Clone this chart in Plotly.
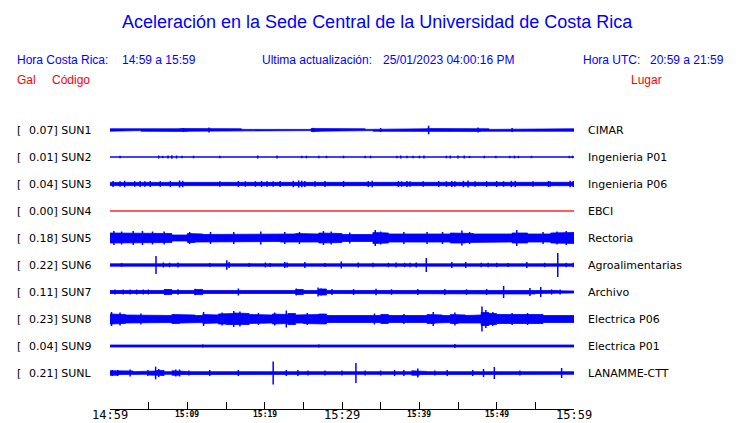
import plotly.graph_objects as go

TITLE = "Aceleración en la Sede Central de la Universidad de Costa Rica"

codes = ["SUN1", "SUN2", "SUN3", "SUN4", "SUN5", "SUN6", "SUN7", "SUN8", "SUN9", "SUNL"]
peaks = [0.07, 0.01, 0.04, 0.00, 0.18, 0.22, 0.11, 0.23, 0.04, 0.21]
places = ["CIMAR", "Ingenieria P01", "Ingenieria P06", "EBCI", "Rectoria",
          "Agroalimentarias", "Archivo", "Electrica P06", "Electrica P01", "LANAMME-CTT"]
trace_colors = ["#0000ff", "#0000ff", "#0000ff", "#ff0000", "#0000ff",
                "#0000ff", "#0000ff", "#0000ff", "#0000ff", "#0000ff"]

# minutes after 14:59
tick_minutes = [0, 5, 10, 15, 20, 25, 30, 35, 40, 45, 50, 55, 60]
tick_labels = ["14:59", "", "15:09", "", "15:19", "", "15:29", "", "15:39", "", "15:49", "", "15:59"]
big_labels = ["14:59", "15:29", "15:59"]

# background level (half amplitude, relative units) for each minute 0..59
env = {
    "SUN1": [1.2, 1.2, 1.2, 0.6, 1.2, 1.2, 1.2, 1.0, 1.2, 1.4, 1.2, 1.2, 1.0, 1.2, 1.2, 1.2, 1.2, 0.6, 1.2, 0.6,
             1.2, 1.2, 1.0, 1.2, 1.2, 0.6, 1.4, 1.2, 1.2, 1.2, 1.2, 1.2, 1.2, 0.6, 1.2, 1.2, 1.0, 1.2, 1.2, 1.2,
             1.2, 1.4, 1.2, 1.2, 1.0, 1.2, 1.2, 1.4, 1.2, 0.6, 1.2, 1.2, 1.0, 1.2, 0.6, 1.2, 1.2, 1.2, 1.2, 1.2],
    "SUN2": [0.2, 0.2, 0.2, 0.2, 0.2, 0.2, 0.5, 0.5, 0.6, 0.5, 0.2, 0.2, 0.2, 0.2, 0.2, 0.2, 0.2, 0.2, 0.2, 0.2,
             0.2, 0.2, 0.2, 0.2, 0.2, 0.2, 0.2, 0.2, 0.2, 0.2, 0.2, 0.2, 0.2, 0.2, 0.2, 0.2, 0.2, 0.4, 0.4, 0.4,
             0.4, 0.2, 0.2, 0.4, 0.5, 0.4, 0.4, 0.2, 0.2, 0.2, 0.2, 0.2, 0.4, 0.2, 0.2, 0.2, 0.2, 0.2, 0.2, 0.2],
    "SUN3": [1.6, 1.6, 1.6, 1.6, 1.6, 1.6, 1.6, 1.6, 1.6, 1.8, 1.6, 1.6, 1.6, 1.6, 1.6, 1.6, 1.6, 1.6, 1.6, 1.6,
             1.6, 1.6, 1.6, 1.8, 1.9, 1.8, 1.6, 1.6, 1.6, 1.6, 1.6, 1.6, 1.6, 1.6, 1.6, 1.6, 1.6, 1.6, 1.7, 1.6,
             1.6, 1.6, 1.6, 1.6, 1.7, 1.8, 1.8, 1.6, 1.6, 1.6, 1.6, 1.7, 1.8, 1.6, 1.6, 1.6, 1.6, 1.6, 1.6, 1.7],
    "SUN4": [0.0, 0.0, 0.0, 0.0, 0.0, 0.0, 0.0, 0.0, 0.0, 0.0, 0.0, 0.0, 0.0, 0.0, 0.0, 0.0, 0.0, 0.0, 0.0, 0.0,
             0.0, 0.0, 0.0, 0.0, 0.0, 0.0, 0.0, 0.0, 0.0, 0.0, 0.0, 0.0, 0.0, 0.0, 0.0, 0.0, 0.0, 0.0, 0.0, 0.0,
             0.0, 0.0, 0.0, 0.0, 0.0, 0.0, 0.0, 0.0, 0.0, 0.0, 0.0, 0.0, 0.0, 0.0, 0.0, 0.0, 0.0, 0.0, 0.0, 0.0],
    "SUN5": [5.0, 4.5, 5.0, 4.5, 5.0, 4.5, 4.5, 4.5, 3.0, 3.0, 4.5, 4.0, 3.5, 3.5, 3.5, 4.0, 3.5, 3.5, 4.0, 4.0,
             4.0, 3.5, 4.0, 4.0, 4.5, 4.5, 4.0, 5.0, 5.0, 4.5, 3.5, 3.0, 3.5, 3.5, 5.5, 5.0, 4.0, 4.0, 4.0, 4.0,
             4.0, 4.0, 4.0, 4.0, 5.0, 5.0, 4.5, 4.0, 4.0, 4.0, 4.0, 4.0, 5.0, 5.0, 4.0, 4.0, 4.0, 5.0, 5.5, 5.5],
    "SUN6": [1.2, 1.2, 1.2, 1.2, 1.2, 1.2, 1.3, 1.3, 1.3, 1.2, 1.2, 1.2, 1.2, 1.2, 1.2, 1.4, 1.2, 1.2, 1.2, 1.2,
             1.3, 1.2, 1.3, 1.2, 1.2, 1.3, 1.2, 1.2, 1.2, 1.3, 1.3, 1.2, 1.2, 1.2, 1.2, 1.2, 1.2, 1.2, 1.2, 1.2,
             1.3, 1.2, 1.2, 1.2, 1.3, 1.2, 1.2, 1.2, 1.2, 1.2, 1.2, 1.2, 1.2, 1.2, 1.3, 1.2, 1.2, 1.3, 1.2, 1.2],
    "SUN7": [1.5, 1.5, 1.5, 1.5, 1.5, 1.5, 1.5, 2.5, 1.5, 2.2, 1.5, 2.5, 1.5, 1.5, 1.5, 1.5, 2.0, 1.5, 1.5, 1.5,
             1.5, 1.5, 1.5, 1.5, 2.5, 1.5, 1.5, 3.0, 1.5, 2.2, 1.5, 2.2, 1.5, 1.5, 2.0, 1.5, 1.8, 1.5, 1.5, 2.0,
             2.2, 1.5, 1.5, 2.0, 1.5, 1.5, 1.8, 1.5, 2.0, 1.5, 1.5, 2.0, 1.5, 1.5, 2.0, 1.5, 1.5, 1.5, 1.2, 1.0],
    "SUN8": [5.0, 4.5, 4.0, 3.5, 3.5, 4.0, 3.5, 3.5, 4.5, 4.0, 4.0, 3.5, 4.5, 4.0, 5.0, 5.5, 6.0, 5.5, 4.5, 4.5,
             4.0, 5.0, 4.5, 5.5, 4.0, 4.5, 4.5, 5.0, 3.5, 3.5, 3.5, 3.0, 3.0, 3.0, 3.5, 4.5, 3.5, 3.5, 3.5, 4.0,
             3.5, 4.5, 4.0, 3.5, 4.5, 4.0, 3.5, 4.0, 6.5, 5.5, 4.5, 5.0, 5.0, 5.0, 4.5, 4.5, 3.5, 3.0, 3.5, 3.5],
    "SUN9": [1.0, 1.0, 1.0, 0.5, 1.0, 1.0, 1.0, 1.0, 1.0, 0.6, 1.0, 1.0, 1.0, 1.0, 1.0, 1.0, 1.0, 1.0, 1.0, 1.0,
             0.5, 1.0, 1.0, 1.0, 1.0, 1.0, 1.0, 1.0, 1.0, 1.0, 1.0, 1.0, 0.6, 1.0, 1.0, 1.0, 1.0, 1.0, 1.0, 1.0,
             1.0, 1.0, 1.0, 1.0, 1.1, 1.0, 1.0, 1.0, 1.0, 1.0, 1.0, 1.0, 1.0, 1.0, 1.0, 1.0, 1.0, 1.0, 1.0, 1.0],
    "SUNL": [2.2, 1.5, 2.0, 1.3, 1.3, 2.0, 2.5, 1.3, 2.2, 1.5, 1.3, 1.3, 1.5, 1.8, 1.3, 1.3, 1.8, 1.3, 1.3, 1.3,
             1.3, 2.0, 1.5, 1.8, 1.8, 1.5, 1.3, 1.5, 1.3, 1.3, 1.5, 2.0, 1.3, 1.3, 1.3, 1.5, 1.8, 1.8, 1.3, 2.2,
             1.5, 1.3, 1.5, 2.0, 1.3, 1.3, 1.5, 1.8, 2.0, 1.8, 1.3, 1.3, 1.3, 1.5, 1.3, 1.3, 1.3, 1.3, 1.8, 1.3],
}

# isolated peaks: (minute, half amplitude)
spikes = {
    "SUN1": [(9.5, 2.0), (12.8, 2.5), (26.3, 2.2), (41.2, 4.3), (47.6, 2.5), (35.0, 2.0), (52.0, 2.0)],
    "SUN2": [(1.3, 1.3), (6.3, 1.5), (6.8, 1.2), (7.5, 1.6), (8.0, 1.8), (8.6, 1.5), (9.3, 1.3), (10.8, 1.3),
             (14.2, 1.2), (19.1, 1.5), (21.6, 1.5), (24.8, 1.3), (25.4, 1.3), (27.0, 1.2), (28.0, 1.2),
             (30.2, 1.3), (33.0, 1.2), (33.7, 1.3), (37.1, 1.3), (37.6, 1.5), (38.4, 1.2), (39.2, 1.2),
             (40.0, 1.3), (40.6, 1.4), (43.5, 1.3), (44.0, 1.5), (45.0, 1.5), (45.8, 1.4), (46.5, 1.2),
             (48.4, 1.3), (49.9, 1.2), (51.7, 1.2), (52.3, 1.4), (52.8, 1.2), (54.5, 1.2), (59.4, 1.2), (59.8, 1.3)],
    "SUN3": [(0.4, 3.0), (1.3, 2.8), (1.9, 3.2), (3.2, 2.8), (3.9, 3.0), (4.5, 2.8), (5.2, 3.0), (6.5, 2.8),
             (7.8, 3.0), (9.0, 3.5), (9.4, 3.2), (14.2, 2.8), (16.6, 3.0), (17.5, 2.8), (18.8, 2.8), (19.6, 3.0),
             (20.3, 2.8), (21.1, 2.8), (22.0, 3.0), (23.7, 3.2), (24.4, 3.5), (24.8, 3.2), (25.2, 3.0),
             (26.5, 2.8), (27.8, 3.0), (30.2, 3.0), (33.4, 3.0), (33.9, 3.2), (37.3, 3.0), (37.7, 2.8),
             (38.4, 3.0), (38.8, 2.8), (40.5, 2.8), (42.5, 3.0), (43.5, 2.8), (44.2, 3.0), (44.6, 2.8),
             (45.7, 3.2), (46.3, 3.5), (47.2, 2.8), (48.7, 2.8), (50.0, 3.0), (50.9, 2.8), (51.9, 3.2),
             (52.4, 3.2), (54.7, 2.8), (56.7, 3.0), (56.9, 2.8), (59.5, 3.2), (59.9, 3.0)],
    "SUN4": [],
    "SUN5": [(0.5, 7.0), (1.5, 6.5), (3.0, 7.0), (4.2, 7.0), (5.5, 6.5), (7.0, 6.5), (10.3, 6.0), (13.0, 6.0),
             (16.0, 6.0), (19.5, 6.5), (22.6, 6.0), (24.5, 6.0), (27.6, 7.0), (28.6, 6.5), (31.0, 5.5),
             (34.3, 8.0), (35.0, 6.5), (38.0, 6.0), (41.0, 6.0), (43.0, 6.0), (45.5, 7.5), (46.5, 6.0),
             (52.6, 8.0), (56.0, 6.0), (57.8, 6.5), (59.0, 7.0)],
    "SUN6": [(1.5, 2.0), (5.95, 9.0), (6.9, 2.5), (7.7, 2.3), (8.8, 2.5), (12.9, 2.0), (15.1, 4.7), (15.4, 3.0),
             (18.0, 2.0), (20.1, 2.5), (20.7, 2.0), (22.6, 3.0), (22.9, 2.5), (25.2, 3.0), (27.8, 2.0),
             (29.9, 3.5), (32.1, 2.5), (34.0, 2.2), (36.0, 2.2), (37.0, 2.5), (38.1, 2.2), (38.8, 2.2),
             (39.6, 2.5), (40.9, 7.0), (44.2, 3.0), (46.0, 3.0), (48.0, 2.2), (48.9, 2.2), (50.0, 2.2),
             (51.5, 2.0), (53.9, 3.0), (56.2, 2.2), (57.9, 12.0), (59.0, 2.2), (59.9, 2.2)],
    "SUN7": [(0.65, 2.5), (1.7, 2.5), (2.6, 2.5), (3.45, 2.5), (4.3, 2.5), (4.95, 2.5), (7.2, 3.0), (8.8, 2.8),
             (11.0, 3.2), (16.6, 3.5), (24.1, 3.5), (26.9, 4.5), (27.3, 3.5), (28.7, 3.0), (31.5, 3.0),
             (34.4, 3.2), (36.4, 2.8), (39.8, 3.0), (43.3, 3.0), (46.1, 2.8), (48.7, 3.0), (50.9, 6.0),
             (54.3, 4.0), (55.7, 5.0), (57.1, 2.6), (58.2, 2.6)],
    "SUN8": [(0.2, 7.0), (1.3, 6.5), (4.0, 5.5), (12.1, 7.0), (14.5, 6.5), (16.0, 8.0), (16.8, 7.5), (19.2, 6.0),
             (21.3, 6.5), (22.8, 8.5), (25.5, 6.0), (34.2, 5.5), (38.0, 5.0), (41.8, 7.0), (44.6, 6.5),
             (48.1, 12.5), (48.6, 9.0), (49.5, 7.0), (52.0, 6.0), (54.0, 6.0)],
    "SUN9": [(44.6, 2.0), (12.0, 1.6), (27.0, 1.6)],
    "SUNL": [(0.3, 3.0), (1.0, 3.0), (2.6, 3.5), (4.9, 3.0), (5.9, 6.3), (6.3, 4.0), (8.5, 3.5), (9.0, 3.5),
             (10.2, 2.5), (12.9, 3.0), (16.6, 3.0), (21.1, 11.5), (22.8, 3.0), (24.3, 3.0), (25.6, 2.5),
             (27.8, 2.5), (30.0, 2.5), (31.8, 10.0), (33.0, 2.5), (35.0, 2.5), (36.8, 3.0), (38.0, 3.0),
             (39.8, 4.5), (42.0, 2.5), (43.6, 3.0), (46.9, 3.0), (48.3, 4.0), (49.7, 6.0), (53.0, 2.5),
             (58.4, 5.0)],
}

AMP = 1 / 27  # relative amplitude -> trace spacing units
L, R, T, B = 110, 166, 103, 14
W, H = 740, 423


def px(x):
    return (x - L) / (W - L - R)


def py(y):
    return (H - B - y) / (H - T - B)


fig = go.Figure()

for i, code in enumerate(codes):
    a = env[code]
    xs, ys = [], []
    for m, v in enumerate(a):
        xs += [m, m + 1]
        ys += [i - v * AMP, i - v * AMP]
    for m in range(len(a) - 1, -1, -1):
        xs += [m + 1, m]
        ys += [i + a[m] * AMP, i + a[m] * AMP]
    fig.add_trace(go.Scatter(x=xs, y=ys, mode="lines", fill="toself",
                             fillcolor=trace_colors[i],
                             line=dict(color=trace_colors[i], width=0.8),
                             hoverinfo="skip", showlegend=False))
    sx, sy = [], []
    for m, v in spikes[code]:
        sx += [m, m, None]
        sy += [i - v * AMP, i + v * AMP, None]
    if sx:
        fig.add_trace(go.Scatter(x=sx, y=sy, mode="lines",
                                 line=dict(color=trace_colors[i], width=1.5),
                                 hoverinfo="skip", showlegend=False))

ann = []
label_font = dict(family="DejaVu Sans", size=11, color="black")
for i, code in enumerate(codes):
    ann.append(dict(x=px(15), y=i, xref="paper", yref="y", text="[", xanchor="left",
                    showarrow=False, font=label_font))
    ann.append(dict(x=px(27), y=i, xref="paper", yref="y", text=f"{peaks[i]:.2f}]\u00a0SUN{code[3:]}",
                    xanchor="left", showarrow=False, font=label_font))
    ann.append(dict(x=px(586), y=i, xref="paper", yref="y", text=places[i], xanchor="left",
                    showarrow=False, font=label_font))

for m, lab in zip(tick_minutes, tick_labels):
    if not lab:
        continue
    big = lab in big_labels
    ann.append(dict(x=m, y=py(415 if big else 414), xref="x", yref="paper",
                    text=lab if big else f"<b>{lab}</b>",
                    xanchor="center", yanchor="middle", showarrow=False,
                    font=dict(family="DejaVu Sans Mono", size=12 if big else 8, color="black")))

hdr = dict(family="Liberation Sans", size=12, color="#0000ff")
red = dict(family="Liberation Sans", size=12, color="#ff0000")
ann += [
    dict(x=px(377), y=py(22), text=TITLE, xanchor="center",
         font=dict(family="Liberation Sans", size=18, color="#0000ff")),
    dict(x=px(15), y=py(60), text="Hora Costa Rica:", xanchor="left", font=hdr),
    dict(x=px(120), y=py(60), text="14:59 a 15:59", xanchor="left", font=hdr),
    dict(x=px(260), y=py(60), text="Ultima actualización:", xanchor="left", font=hdr),
    dict(x=px(381), y=py(60), text="25/01/2023 04:00:16 PM", xanchor="left", font=hdr),
    dict(x=px(581), y=py(60), text="Hora UTC:", xanchor="left", font=hdr),
    dict(x=px(726), y=py(60), text="20:59 a 21:59", xanchor="right", font=hdr),
    dict(x=px(15), y=py(80), text="Gal", xanchor="left", font=red),
    dict(x=px(50), y=py(80), text="Código", xanchor="left", font=red),
    dict(x=px(629), y=py(80), text="Lugar", xanchor="left", font=red),
]
for a in ann[-10:]:
    a.update(xref="paper", yref="paper", yanchor="middle", showarrow=False)

fig.update_layout(
    width=W, height=H,
    margin=dict(l=L, r=R, t=T, b=B),
    plot_bgcolor="white", paper_bgcolor="white",
    showlegend=False,
    annotations=ann,
    xaxis=dict(range=[0, 60], tickvals=tick_minutes, showticklabels=False,
               ticks="inside", ticklen=7, tickcolor="black", tickwidth=1,
               showline=True, linecolor="black", linewidth=1,
               showgrid=False, zeroline=False, fixedrange=True),
    yaxis=dict(range=[(H - B - 130) / 27, -1], visible=False, showgrid=False,
               zeroline=False, fixedrange=True),
)

# page margin off so the figure sits at the window's top-left corner
fig.write_html("out.html", config={"displayModeBar": False},
               post_script="document.body.style.margin='0';document.body.style.overflow='hidden';")
